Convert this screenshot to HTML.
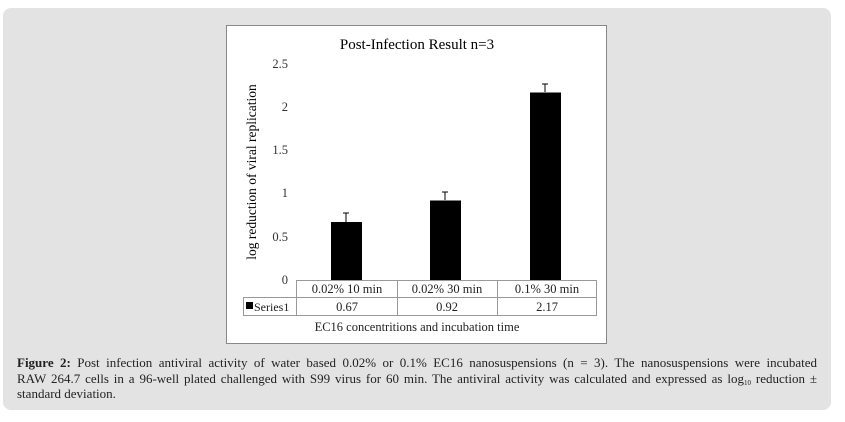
<!DOCTYPE html>
<html><head><style>
body{margin:0;width:845px;height:422px;background:#fff;position:relative;overflow:hidden;font-family:"Liberation Serif",serif;}
.box{position:absolute;left:3px;top:8px;width:828px;height:402px;background:#e3e3e3;border-radius:8px;}
.cap{position:absolute;left:17px;top:355px;width:800px;font-size:13px;line-height:15.5px;color:#222;}
.cap div{text-align:justify;text-align-last:justify;white-space:nowrap;height:15.5px;}
.cap div.l{text-align-last:left;}
sub{font-size:7px;line-height:0;vertical-align:-2px;}
</style></head><body>
<div class="box"></div>
<svg style="position:absolute;left:0;top:0" width="845" height="422" font-family="Liberation Serif, serif">
<rect x="226.5" y="25.5" width="380" height="318" fill="#fff" stroke="#888"/>
<text x="417" y="49" font-size="15" text-anchor="middle">Post-Infection Result n=3</text>
<g font-size="12.5" text-anchor="end" fill="#333">
<text x="288" y="284">0</text><text x="288" y="241">0.5</text><text x="288" y="197">1</text>
<text x="288" y="154">1.5</text><text x="288" y="111">2</text><text x="288" y="68">2.5</text>
</g>
<text transform="translate(256,172) rotate(-90)" font-size="13.5" text-anchor="middle">log reduction of viral replication</text>
<rect x="331" y="222" width="31" height="58" fill="#000"/>
<rect x="430" y="200.5" width="31" height="79.5" fill="#000"/>
<rect x="530" y="92.5" width="31" height="187.5" fill="#000"/>
<g stroke="#000" stroke-width="1">
<line x1="346" y1="222" x2="346" y2="213"/><line x1="343" y1="213" x2="349" y2="213"/>
<line x1="445" y1="200" x2="445" y2="192"/><line x1="442" y1="192" x2="448" y2="192"/>
<line x1="545" y1="92" x2="545" y2="84"/><line x1="542" y1="84" x2="548" y2="84"/>
</g>
<g stroke="#999" fill="none">
<line x1="296" y1="280.5" x2="597" y2="280.5"/>
<line x1="243" y1="297.5" x2="597" y2="297.5"/>
<line x1="243" y1="315.5" x2="597" y2="315.5"/>
<line x1="243.5" y1="297" x2="243.5" y2="315"/>
<line x1="296.5" y1="280" x2="296.5" y2="315"/>
<line x1="397.5" y1="280" x2="397.5" y2="315"/>
<line x1="497.5" y1="280" x2="497.5" y2="315"/>
<line x1="596.5" y1="280" x2="596.5" y2="315"/>
</g>
<g font-size="12.5" text-anchor="middle" fill="#222">
<text x="347" y="293">0.02% 10 min</text><text x="447" y="293">0.02% 30 min</text><text x="547" y="293">0.1% 30 min</text>
<text x="347" y="311">0.67</text><text x="447" y="311">0.92</text><text x="547" y="311">2.17</text>
<text x="417" y="331">EC16 concentritions and  incubation time</text>
</g>
<rect x="246" y="302" width="7" height="7" fill="#000"/>
<text x="254" y="311" font-size="12" fill="#222">Series1</text>
</svg>
<div class="cap">
<div><b>Figure 2:</b> Post infection antiviral activity of water based 0.02% or 0.1% EC16 nanosuspensions (n = 3). The nanosuspensions were incubated</div>
<div>RAW 264.7 cells in a 96-well plated challenged with S99 virus for 60 min. The antiviral activity was calculated and expressed as log<sub>10</sub> reduction ±</div>
<div class="l">standard deviation.</div>
</div>
</body></html>
